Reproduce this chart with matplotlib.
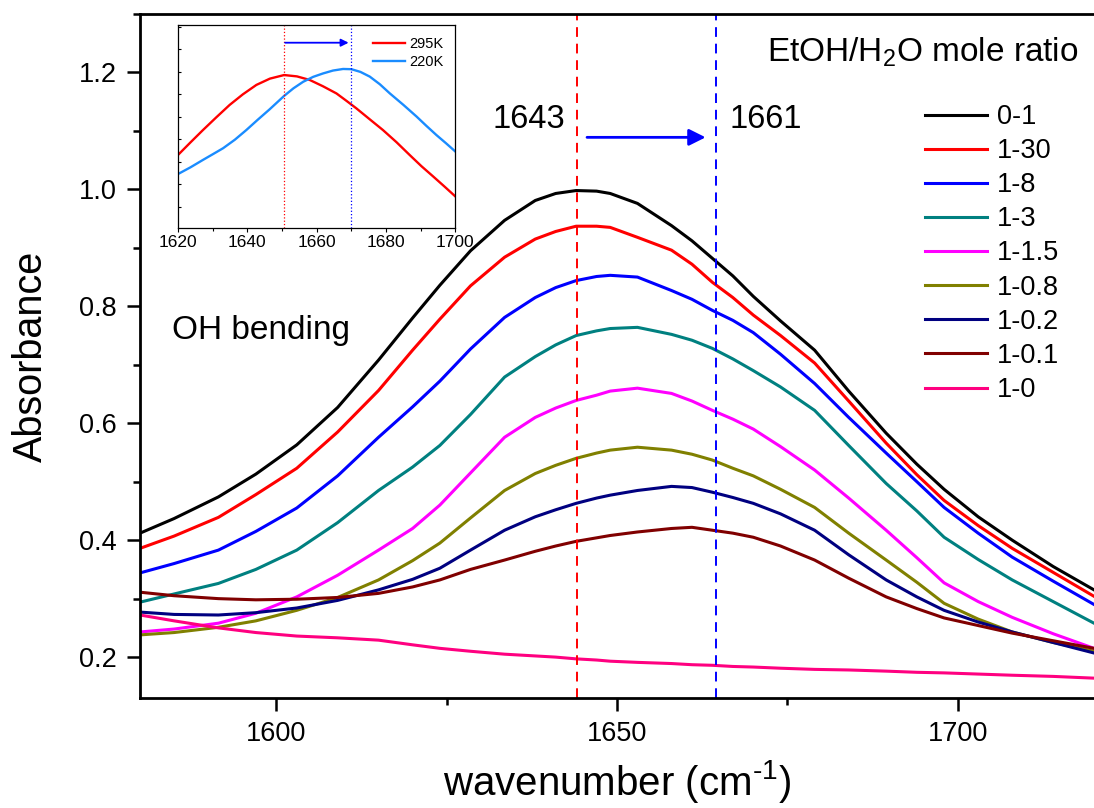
import numpy as np
import matplotlib
matplotlib.use('Agg')
import matplotlib.pyplot as plt
from matplotlib.ticker import MultipleLocator

plt.rcParams['font.family'] = ['Liberation Sans', 'DejaVu Sans']
plt.rcParams['mathtext.fontset'] = 'custom'
plt.rcParams['mathtext.rm'] = 'Liberation Sans'
plt.rcParams['mathtext.it'] = 'Liberation Sans'

# main spectra
wn = [1580, 1585, 1591.5, 1597, 1603, 1609, 1615, 1620, 1624, 1628.5, 1633.5,
      1638, 1641, 1644, 1647, 1649, 1653, 1658, 1661, 1664, 1667, 1670, 1674,
      1679, 1684, 1689.5, 1694, 1698, 1703, 1708, 1714, 1720]
a_0_1 = [.412, .437, .474, .513, .563, .627, .708, .780, .836, .895, .947,
         .981, .993, .998, .997, .993, .976, .938, .912, .882, .852, .817, .775,
         .725, .655, .583, .530, .487, .440, .400, .355, .315]
a_1_30 = [.386, .407, .439, .478, .523, .585, .656, .725, .778, .835, .884,
          .915, .928, .937, .937, .935, .918, .896, .872, .841, .815, .785, .750,
          .703, .638, .566, .512, .468, .425, .386, .345, .304]
a_1_8 = [.344, .360, .383, .415, .455, .510, .576, .628, .672, .727, .781,
         .815, .832, .844, .851, .853, .850, .827, .812, .793, .776, .755, .718,
         .668, .610, .549, .500, .456, .412, .371, .330, .290]
a_1_3 = [.294, .308, .326, .350, .383, .430, .485, .525, .562, .615, .679,
         .714, .734, .750, .758, .762, .764, .752, .742, .728, .710, .690, .662,
         .622, .562, .497, .450, .405, .367, .332, .295, .258]
a_1_15 = [.243, .248, .258, .275, .303, .340, .383, .420, .460, .515, .576,
          .610, .626, .639, .648, .655, .660, .651, .638, .622, .607, .590, .560,
          .520, .472, .417, .370, .327, .295, .268, .240, .215]
a_1_08 = [.238, .242, .251, .262, .280, .302, .332, .365, .395, .438, .485,
          .514, .528, .540, .549, .554, .559, .554, .547, .537, .523, .510, .487,
          .456, .412, .366, .328, .292, .265, .243, .225, .210]
a_1_02 = [.277, .273, .272, .276, .284, .297, .315, .333, .352, .383, .417,
          .440, .452, .463, .472, .477, .485, .492, .490, .482, .473, .463, .445,
          .417, .375, .332, .303, .280, .260, .243, .225, .207]
a_1_01 = [.311, .305, .300, .298, .299, .302, .309, .320, .332, .350, .366,
          .381, .390, .398, .404, .408, .414, .420, .422, .417, .412, .405, .390,
          .366, .335, .303, .283, .267, .254, .241, .228, .215]
a_1_0 = [.272, .262, .250, .242, .236, .233, .229, .221, .215, .210, .205,
         .202, .200, .197, .195, .193, .191, .189, .187, .186, .184, .183, .181,
         .179, .178, .176, .174, .173, .171, .169, .167, .164]

series = [a_0_1, a_1_30, a_1_8, a_1_3, a_1_15, a_1_08, a_1_02, a_1_01, a_1_0]
labels = ['0-1', '1-30', '1-8', '1-3', '1-1.5', '1-0.8', '1-0.2', '1-0.1', '1-0']
colors = ['#000000', '#ff0000', '#0000ff', '#008080', '#ff00ff', '#808000',
          '#000080', '#800000', '#ff0080']

peak_lo, peak_hi = 1644.2, 1664.5

# inset spectra
wn_295 = [1620, 1623.6, 1627.2, 1631, 1634.9, 1638.7, 1642.6, 1646.5, 1650.6,
          1654.3, 1658.0, 1661.8, 1665.7, 1668.5, 1671.4, 1675.2, 1679.1,
          1683, 1686.8, 1690.2, 1693.6, 1696.8, 1700]
a_295 = [.330, .386, .441, .497, .553, .600, .642, .670, .686, .680, .664,
         .636, .604, .572, .538, .490, .441, .387, .330, .280, .234, .190, .145]
wn_220 = [1620, 1623.6, 1627.2, 1630, 1633, 1636.4, 1639.7, 1643, 1646.4,
          1650.6, 1653.3, 1656.1, 1659, 1661.8, 1664.7, 1667.6, 1670.0, 1672.6,
          1675.3, 1678.2, 1681.1, 1685, 1688.8, 1691.6, 1694.5, 1697.3, 1700]
a_220 = [.245, .275, .308, .333, .360, .398, .441, .487, .533, .593, .627,
         .656, .678, .693, .706, .713, .712, .700, .679, .645, .604, .553, .501,
         .460, .419, .382, .345]
inset_lo, inset_hi = 1650.6, 1670.0

fig = plt.figure(figsize=(10.94, 8.08), dpi=100)
ax = fig.add_axes([0.128, 0.1361, 0.872, 0.8466])

for y, lab, c in zip(series, labels, colors):
    ax.plot(wn, y, color=c, lw=2.2, label=lab, solid_joinstyle='round')

ax.axvline(peak_lo, color='#ff0000', lw=1.4, dashes=(5, 3.5))
ax.axvline(peak_hi, color='#0000ff', lw=1.4, dashes=(5, 3.5))
ax.annotate('', xy=(1663.0, 1.089), xytext=(1645.6, 1.089),
            arrowprops=dict(arrowstyle='-|>', color='#0000ff', lw=2,
                            mutation_scale=25, shrinkA=0, shrinkB=0))
ax.text(1637.1, 1.12, '1643', fontsize=23.5, ha='center', va='center')
ax.text(1671.8, 1.12, '1661', fontsize=23.5, ha='center', va='center')
ax.text(1597.7, 0.759, 'OH bending', fontsize=24, ha='center', va='center')
ax.text(923 / 1094, 1 - 52 / 808, 'EtOH/H$_2$O mole ratio', fontsize=24,
        ha='center', va='center', transform=fig.transFigure)

ax.set_xlim(1580, 1720)
ax.set_ylim(0.13, 1.3)
ax.xaxis.set_major_locator(MultipleLocator(50))
ax.xaxis.set_minor_locator(MultipleLocator(25))
ax.yaxis.set_major_locator(MultipleLocator(0.2))
ax.yaxis.set_minor_locator(MultipleLocator(0.1))
ax.tick_params(which='both', direction='out', width=1.8, labelsize=19.5,
               top=False, right=False)
ax.tick_params(which='major', length=9.5, pad=7)
ax.tick_params(which='minor', length=5)
for s in ['left', 'bottom', 'top']:
    ax.spines[s].set_linewidth(2.0)
ax.spines['right'].set_visible(False)
ax.set_xlabel(r'wavenumber (cm$^{\text{-1}}$)', fontsize=29, labelpad=8)
ax.set_ylabel('Absorbance', fontsize=28.5, labelpad=21)

ax.legend(loc='upper left', bbox_to_anchor=(925 / 1094, 1 - 104 / 808),
          bbox_transform=fig.transFigure, frameon=False, fontsize=19.5,
          handlelength=2.3, handletextpad=0.35, labelspacing=0.3,
          borderpad=0, borderaxespad=0)

# inset
ins = fig.add_axes([0.1627, 0.7175, 0.2536, 0.2516])
ins.plot(wn_295, a_295, color='#ff0000', lw=1.7, label='295K')
ins.plot(wn_220, a_220, color='#1a8cff', lw=1.7, label='220K')
ins.axvline(inset_lo, color='#ff0000', lw=0.9, ls=':')
ins.axvline(inset_hi, color='#0000ff', lw=0.9, ls=':')
ins.annotate('', xy=(1669.2, 0.83), xytext=(1650.9, 0.83),
             arrowprops=dict(arrowstyle='-|>', color='#0000ff', lw=1.3,
                             mutation_scale=11, shrinkA=0, shrinkB=0))
ins.set_xlim(1620, 1700)
ins.set_ylim(0.0036, 0.909)
ins.xaxis.set_major_locator(MultipleLocator(20))
ins.xaxis.set_minor_locator(MultipleLocator(10))
ins.yaxis.set_major_locator(MultipleLocator(0.1))
ins.set_yticklabels([])
ins.tick_params(axis='x', which='major', direction='out', length=3, width=0.8,
                labelsize=12.5, pad=2)
ins.tick_params(axis='x', which='minor', direction='out', length=2, width=0.8)
ins.tick_params(axis='y', direction='in', length=2.5, width=0.8)
for s in ins.spines.values():
    s.set_linewidth(0.9)
ins.legend(loc='upper right', frameon=False, fontsize=10.5, handlelength=2.2,
           handletextpad=0.3, labelspacing=0.3, borderaxespad=0.4)

fig.savefig('out.png', dpi=100)
